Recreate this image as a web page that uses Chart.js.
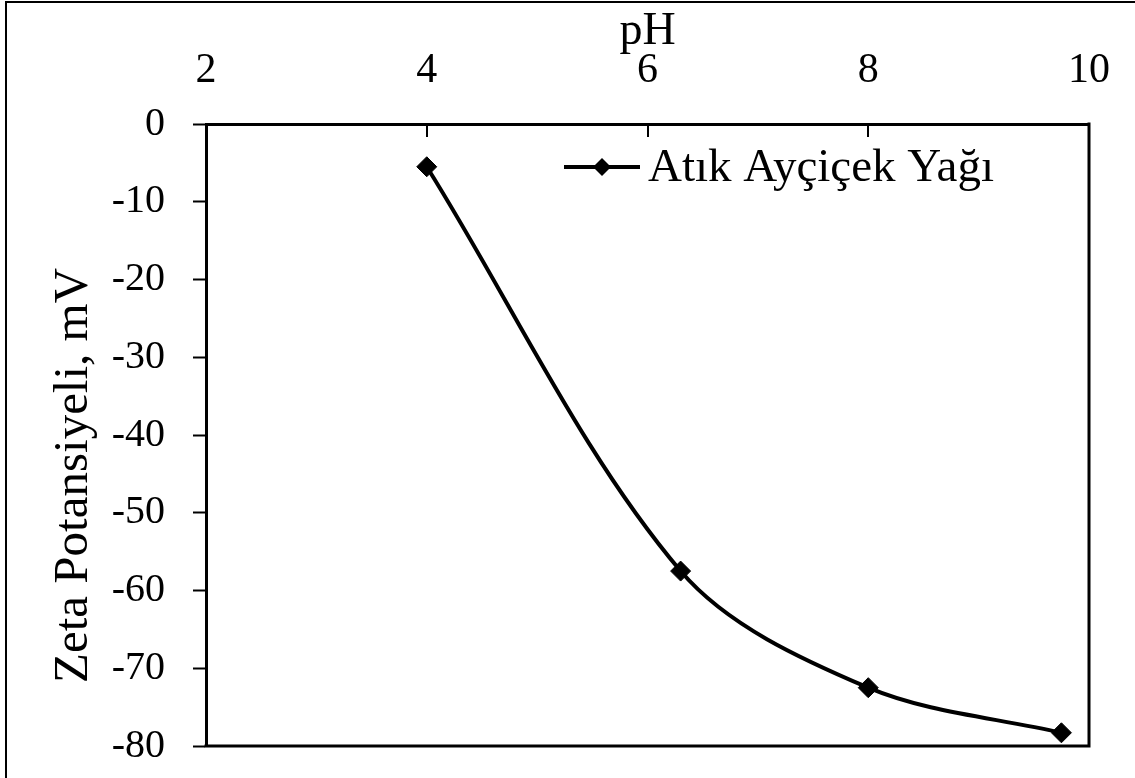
<!DOCTYPE html>
<html>
<head>
<meta charset="utf-8">
<title>Zeta Potansiyeli - pH</title>
<script src="https://cdn.jsdelivr.net/npm/chart.js@4.4.1/dist/chart.umd.min.js"></script>
<style>
  html, body { margin: 0; padding: 0; background: #ffffff; }
  #wrap { position: relative; width: 1135px; height: 778px; }
</style>
</head>
<body>
<div id="wrap"><canvas id="chart"></canvas></div>
<script>
// Measured zeta potential of waste sunflower oil at different pH values
const seriesName = 'Atık Ayçiçek Yağı';
const phValues = [4.0, 6.3, 8.0, 9.75];
const zetaValues = [-5.5, -57.5, -72.5, -78.3];

const xTitle = 'pH';
const yTitle = 'Zeta Potansiyeli, mV';
const xTicks = [2, 4, 6, 8, 10];
const yTicks = [0, -10, -20, -30, -40, -50, -60, -70, -80];

const FONT = "'Liberation Serif', 'Times New Roman', serif";
const INK = '#000000';

// Thin outline around the whole figure (left and top edges)
const figureFrame = {
  id: 'figureFrame',
  beforeDraw(chart) {
    const ctx = chart.ctx;
    ctx.save();
    ctx.strokeStyle = INK;
    ctx.lineWidth = 2;
    ctx.beginPath();
    ctx.moveTo(6, chart.height);
    ctx.lineTo(6, 2);
    ctx.lineTo(chart.width, 2);
    ctx.stroke();
    ctx.restore();
  }
};

// Closes the plot box on the right and bottom, and adds inward ticks on the top axis
const plotBox = {
  id: 'plotBox',
  afterDraw(chart) {
    const ctx = chart.ctx;
    const a = chart.chartArea;
    const xs = chart.scales.x;
    ctx.save();
    ctx.strokeStyle = INK;
    ctx.lineWidth = 3;
    ctx.beginPath();
    ctx.moveTo(a.left - 1.5, a.bottom);
    ctx.lineTo(a.right, a.bottom);
    ctx.lineTo(a.right, a.top - 1.5);
    ctx.stroke();
    ctx.lineWidth = 2;
    ctx.beginPath();
    xs.ticks.forEach(t => {
      if (t.value <= xs.min || t.value >= xs.max) return;
      const px = Math.round(xs.getPixelForValue(t.value));
      ctx.moveTo(px, a.top);
      ctx.lineTo(px, a.top + 13);
    });
    ctx.stroke();
    ctx.restore();
  }
};

// Vertical axis title, set a little below the middle of the value axis
const valueTitle = {
  id: 'valueTitle',
  afterDraw(chart) {
    const ctx = chart.ctx;
    const a = chart.chartArea;
    ctx.save();
    ctx.translate(74, a.top + (a.bottom - a.top) * 0.565);
    ctx.rotate(-Math.PI / 2);
    ctx.fillStyle = INK;
    ctx.font = '49px ' + FONT;
    ctx.textAlign = 'center';
    ctx.textBaseline = 'middle';
    ctx.fillText(yTitle, 0, 0);
    ctx.restore();
  }
};

// Legend entry inside the plot: line sample with diamond marker, then the series name
const inlineLegend = {
  id: 'inlineLegend',
  afterDatasetsDraw(chart) {
    const ctx = chart.ctx;
    const a = chart.chartArea;
    const ds = chart.data.datasets[0];
    const y = a.top + 43;
    const x0 = a.left + 358;
    const x1 = x0 + 76;
    ctx.save();
    ctx.strokeStyle = ds.borderColor;
    ctx.lineWidth = 4;
    ctx.beginPath();
    ctx.moveTo(x0, y);
    ctx.lineTo(x1, y);
    ctx.stroke();
    ctx.fillStyle = ds.pointBackgroundColor;
    Chart.helpers.drawPoint(ctx, { pointStyle: 'rectRot', radius: 9, borderWidth: 0 }, (x0 + x1) / 2, y);
    ctx.fillStyle = INK;
    ctx.font = '47px ' + FONT;
    ctx.textAlign = 'left';
    ctx.textBaseline = 'middle';
    ctx.fillText(ds.label, x1 + 8, y + 2);
    ctx.restore();
  }
};

new Chart(document.getElementById('chart'), {
  type: 'line',
  data: {
    datasets: [{
      label: seriesName,
      data: phValues.map((p, i) => ({ x: p, y: zetaValues[i] })),
      borderColor: INK,
      borderWidth: 4,
      pointStyle: 'rectRot',
      pointRadius: 10,
      pointBorderWidth: 1,
      pointBackgroundColor: INK,
      pointBorderColor: INK,
      tension: 0.33,
      fill: false
    }]
  },
  options: {
    responsive: true,
    maintainAspectRatio: false,
    animation: false,
    layout: { padding: { left: 48, top: 4, right: 46, bottom: 32 } },
    plugins: {
      legend: { display: false },
      tooltip: { enabled: false }
    },
    scales: {
      x: {
        type: 'linear',
        position: 'top',
        min: xTicks[0],
        max: xTicks[xTicks.length - 1],
        afterBuildTicks(scale) { scale.ticks = xTicks.map(v => ({ value: v })); },
        afterFit(scale) {
          scale.height = 120;
          scale.paddingLeft = 0;
          scale.paddingRight = 0;
        },
        ticks: {
          color: INK,
          font: { family: FONT, size: 42 },
          padding: 28,
          maxRotation: 0,
          autoSkip: false
        },
        grid: { display: true, drawOnChartArea: false, drawTicks: false },
        border: { display: true, color: INK, width: 3 },
        title: {
          display: true,
          text: xTitle,
          color: INK,
          font: { family: FONT, size: 46 },
          padding: { top: 0, bottom: 0 }
        }
      },
      y: {
        type: 'linear',
        position: 'left',
        min: yTicks[yTicks.length - 1],
        max: yTicks[0],
        afterBuildTicks(scale) { scale.ticks = yTicks.slice().reverse().map(v => ({ value: v })); },
        afterFit(scale) {
          scale.width = 158;
          scale.paddingTop = 0;
          scale.paddingBottom = 0;
        },
        ticks: {
          color: INK,
          font: { family: FONT, size: 40 },
          padding: 28,
          autoSkip: false
        },
        grid: {
          display: true,
          drawOnChartArea: false,
          drawTicks: true,
          tickLength: 13,
          tickWidth: 2,
          tickColor: INK
        },
        border: { display: true, color: INK, width: 3 },
        title: { display: false }
      }
    }
  },
  plugins: [figureFrame, plotBox, valueTitle, inlineLegend]
});
</script>
</body>
</html>
